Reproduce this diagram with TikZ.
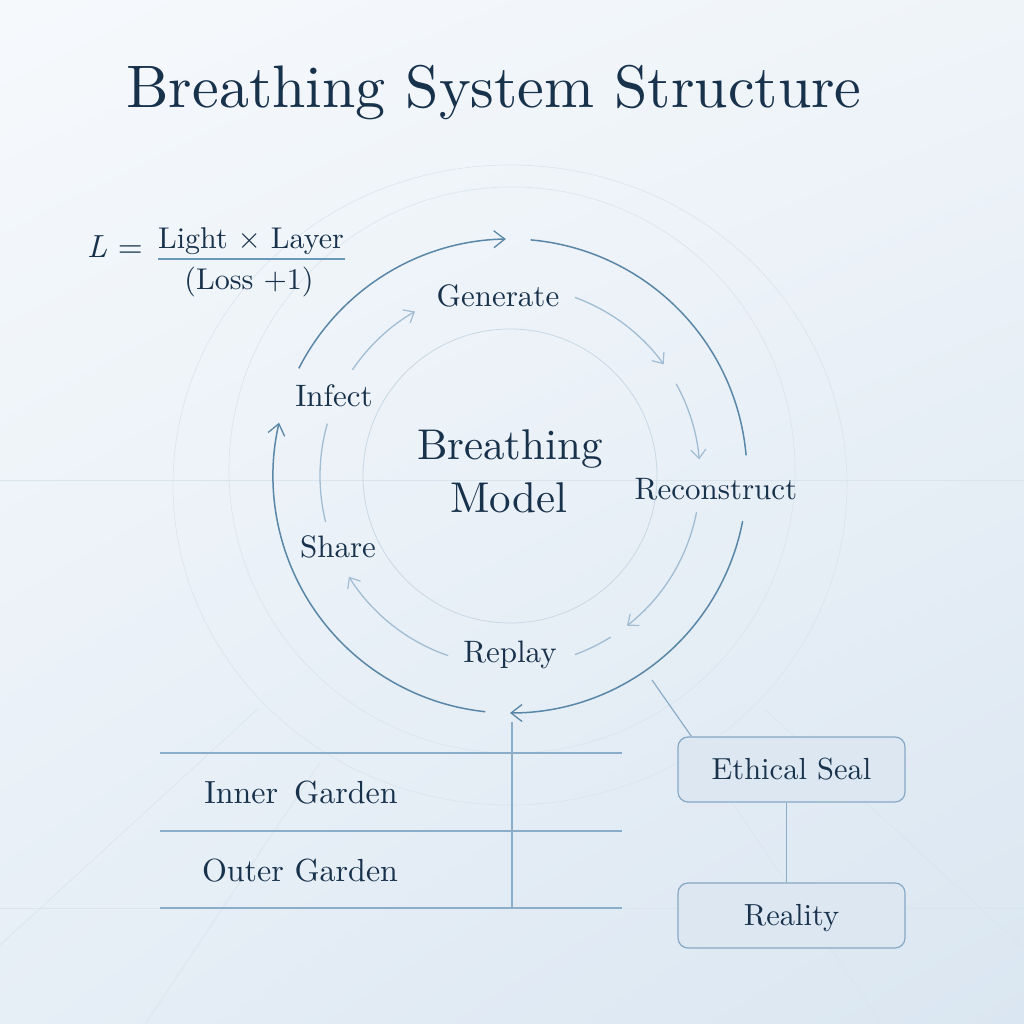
\documentclass[tikz,border=0pt]{standalone}
\usepackage{fontspec}
\setmainfont{lmroman10-regular.otf}[ItalicFont=lmroman10-italic.otf]
\usetikzlibrary{arrows.meta,calc,shadings}
\definecolor{ink}{HTML}{18324C}
\definecolor{ring}{HTML}{5A87A7}
\definecolor{flow}{HTML}{A0BDD4}
\definecolor{faint}{HTML}{DAE4EC}
\definecolor{rulec}{HTML}{8CADC8}
\definecolor{boxfill}{HTML}{DCE7F1}
\definecolor{boxline}{HTML}{86A8C4}
\definecolor{fracline}{HTML}{6A98B8}
\definecolor{bgul}{HTML}{F6F9FC}
\definecolor{bgur}{HTML}{EFF4F9}
\definecolor{bgll}{HTML}{E6EEF6}
\definecolor{bglr}{HTML}{DAE6F1}
\begin{document}
\begin{tikzpicture}[x=1pt,y=1pt,
  lbl/.style={text=ink,font=\fontsize{31}{36}\selectfont,inner sep=0pt,anchor=base},
  ringarc/.style={draw=ring,line width=1.5pt},
  ringarrow/.style={ringarc,-{Straight Barb[length=11pt,width=17pt,line width=1.3pt]}},
  flowarc/.style={draw=flow,line width=1.3pt},
  flowarrow/.style={flowarc,-{Straight Barb[length=9pt,width=15pt,line width=1.2pt]}},
  faintline/.style={draw=faint,line width=0.6pt},
  gardenline/.style={draw=rulec,line width=1.4pt},
  sealbox/.style={draw=boxline,fill=boxfill,line width=1.2pt,rounded corners=10pt,
    minimum width=227pt,minimum height=65pt,text=ink,
    font=\fontsize{30.5}{36}\selectfont,text height=21pt,text depth=0pt,inner sep=0pt}]
\useasboundingbox (0,0) rectangle (1024,1024);
% background
\shade[upper left=bgul, upper right=bgur, lower left=bgll, lower right=bglr]
  (0,0) rectangle (1024,1024);
\begin{scope}
\clip (0,0) rectangle (1024,1024);
% faint background geometry
\draw[faintline] (0,544) -- (1024,544);
\draw[faintline] (0,116) -- (160,116);
\draw[faintline] (622,116) -- (1024,116);
\foreach \a in {-137.5,-123.8,-56,-42.7}
  \draw[faintline] ($(512,548)+(\a:345)$) -- ($(512,548)+(\a:900)$);
\draw[faintline] (512,554) circle (283);
\draw[faintline] (510,539) ellipse (337 and 320);
\end{scope}
\coordinate (c) at (510,548);
% inner thin circle
\draw[draw=faint!70!flow,line width=0.8pt] (c) circle (147);
% outer ring
\draw[ringarrow] ($(c)+(153:237)$) arc (153:91:237);
\draw[ringarc]   ($(c)+(85:237)$) arc (85:5:237);
\draw[ringarrow] ($(c)+(-11:237)$) arc (-11:-90:237);
\draw[ringarrow] ($(c)+(-96:237)$) arc (-96:-193:237);
% middle flow arrows
\draw[flowarrow] ($(c)+(146:190)$) arc (146:120:190);
\draw[flowarrow] ($(c)+(70:190)$) arc (70:36:190);
\draw[flowarrow] ($(c)+(29:190)$) arc (29:5:190);
\draw[flowarrow] ($(c)+(-11:190)$) arc (-11:-52:190);
\draw[flowarc]   ($(c)+(-58:190)$) arc (-58:-70:190);
\draw[flowarrow] ($(c)+(-109:190)$) arc (-109:-148:190);
\draw[flowarc]   ($(c)+(-166:190)$) arc (-166:-196:190);
% title
\node[lbl,font=\fontsize{60}{66}\selectfont] (title) at (494,916) {Breathing System Structure};
% formula
\node[lbl,font=\fontsize{32}{36}\selectfont] (lhs) at (115,766) {\itshape L\/\upshape\ =};
\node[lbl,font=\fontsize{30}{34}\selectfont] (num) at (251,775) {Light × Layer};
\node[lbl,font=\fontsize{30}{34}\selectfont] (den) at (249,734) {(Loss +1)};
\draw[draw=fracline,line width=1.2pt] (158,765) -- (345,765);
% cycle labels
\node[lbl,font=\fontsize{43}{50}\selectfont] (center1) at (510,564) {Breathing};
\node[lbl,font=\fontsize{43}{50}\selectfont] (center2) at (509,511) {Model};
\node[lbl] (gen) at (498,717) {Generate};
\node[lbl] (inf) at (334,617) {Infect};
\node[lbl] (rec) at (716,524) {Reconstruct};
\node[lbl] (rep) at (510,361) {Replay};
\node[lbl] (sha) at (338,466) {Share};
% gardens
\coordinate (gtop) at (512,302);
\coordinate (gbot) at (512,116);
\coordinate (gl1) at (160,271); \coordinate (gr1) at (622,271);
\coordinate (gl2) at (160,193); \coordinate (gr2) at (622,193);
\coordinate (gl3) at (160,116); \coordinate (gr3) at (622,116);
\draw[gardenline] (gl1) -- (gr1);
\draw[gardenline] (gl2) -- (gr2);
\draw[gardenline] (gl3) -- (gr3);
\draw[draw=rulec,line width=1.2pt] (gtop) -- (gbot);
\node[lbl,font=\fontsize{32}{36}\selectfont] (inner) at (301,220) {Inner\, Garden};
\node[lbl,font=\fontsize{32}{36}\selectfont] (outer) at (300,142) {Outer Garden};
% seal and reality
\node[sealbox] (seal) at (791.5,254.5) {Ethical Seal};
\node[sealbox] (real) at (791.5,108.5) {Reality};
\coordinate (sealtip) at (652,344);
\draw[draw=rulec,line width=1.2pt] (sealtip) -- ($(seal.north west)+(14,0)$);
\draw[draw=rulec,line width=1.2pt] ($(seal.south)+(-5,0)$) -- ($(real.north)+(-5,0)$);
\end{tikzpicture}
\end{document}
